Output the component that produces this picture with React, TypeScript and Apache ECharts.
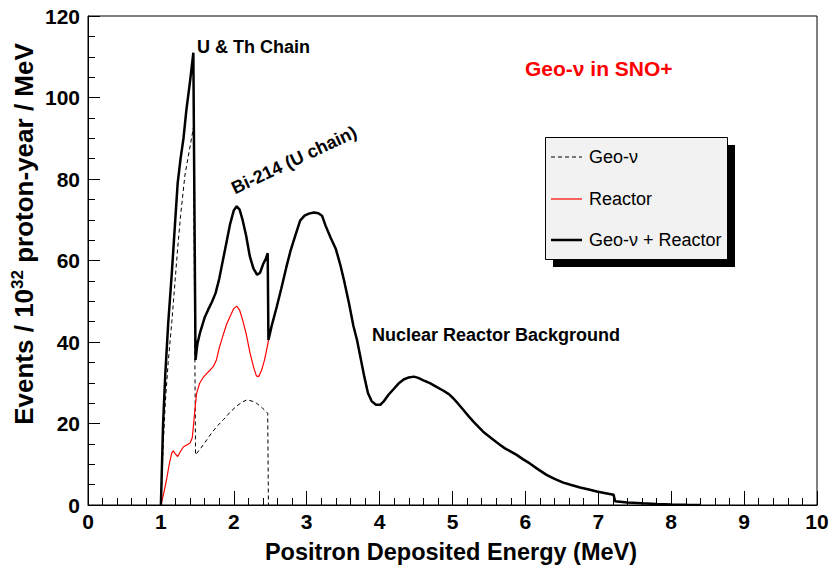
import React, { useEffect, useRef } from 'react';
import * as echarts from 'echarts';

// ---- Data ----
const xTickLabels = ['0', '1', '2', '3', '4', '5', '6', '7', '8', '9', '10'];
const yTickLabels = ['0', '20', '40', '60', '80', '100', '120'];

// Geo-neutrino spectrum (dashed)
const geoEnergy = [1.0, 1.03, 1.06, 1.1, 1.15, 1.19, 1.23, 1.27, 1.33, 1.39, 1.445, 1.475, 1.55, 1.63, 1.7, 1.78, 1.86, 1.95, 2.04, 2.12, 2.18, 2.25, 2.31, 2.38, 2.45, 2.465, 2.475];
const geoValues = [0, 14, 25, 35, 45, 54, 63, 71, 81, 87, 92.5, 12.3, 14, 16, 17.8, 19.5, 21, 22.8, 24.3, 25.3, 25.8, 25.5, 25, 24, 22.8, 22.5, 0];

// Reactor spectrum below 2.5 MeV (red)
const reactorEnergy = [1.0, 1.04, 1.08, 1.12, 1.15, 1.17, 1.2, 1.23, 1.27, 1.31, 1.36, 1.4, 1.43, 1.445, 1.47, 1.49, 1.53, 1.58, 1.63, 1.68, 1.72, 1.76, 1.8, 1.85, 1.9, 1.95, 2.0, 2.04, 2.08, 2.12, 2.17, 2.22, 2.27, 2.31, 2.34, 2.38, 2.42, 2.45, 2.47];
const reactorValues = [0, 3, 6.5, 10.5, 12.8, 13.3, 12.5, 11.9, 13.2, 14.3, 14.8, 15.2, 16.5, 19.2, 24, 27.4, 29.8, 31.3, 32.3, 33.2, 34, 35.5, 38.5, 41.5, 44.3, 46.3, 48.2, 48.8, 47.8, 45.5, 42, 37.5, 33.9, 31.7, 31.5, 33, 35.5, 38, 39.8];

// Geo + Reactor below 2.5 MeV (thick black)
const totalEnergy = [1.0, 1.03, 1.06, 1.1, 1.15, 1.19, 1.23, 1.27, 1.31, 1.35, 1.4, 1.445, 1.475, 1.5, 1.54, 1.6, 1.65, 1.7, 1.75, 1.8, 1.85, 1.9, 1.95, 2.0, 2.04, 2.08, 2.12, 2.17, 2.22, 2.27, 2.32, 2.36, 2.4, 2.44, 2.465];
const totalValues = [0, 20, 32, 44.5, 57, 68, 79, 85, 90, 97, 104, 111, 35.6, 39.5, 42.5, 46, 48, 49.8, 52, 55.5, 60, 64.5, 69, 72.3, 73.3, 72.5, 70, 66, 61, 58, 56.5, 57, 59, 60.5, 61.8];

// Above 2.5 MeV the geo-neutrino term is zero: reactor == geo + reactor
const tailEnergy = [2.475, 2.52, 2.59, 2.65, 2.72, 2.78, 2.85, 2.91, 2.97, 3.03, 3.1, 3.16, 3.21, 3.26, 3.33, 3.4, 3.46, 3.52, 3.58, 3.64, 3.69, 3.74, 3.79, 3.84, 3.89, 3.95, 4.01, 4.06, 4.12, 4.19, 4.26, 4.33, 4.4, 4.47, 4.53, 4.6, 4.69, 4.78, 4.87, 4.95, 5.01, 5.08, 5.15, 5.22, 5.29, 5.36, 5.42, 5.49, 5.56, 5.64, 5.72, 5.8, 5.88, 5.97, 6.06, 6.17, 6.29, 6.4, 6.52, 6.63, 6.75, 6.87, 6.98, 7.1, 7.21, 7.23, 7.4, 7.6, 7.8, 8.0, 8.2, 8.4];
const tailValues = [40.5, 44, 48.7, 53, 58.3, 62.5, 66.5, 69.8, 71, 71.5, 71.8, 71.6, 71, 68.5, 65.5, 62.8, 59, 54.5, 49.5, 44, 40.5, 36, 31.5, 27.5, 25.5, 24.6, 24.6, 25.5, 27, 28.4, 29.8, 30.8, 31.3, 31.5, 31.2, 30.6, 29.9, 29, 28.1, 27.2, 26.2, 24.8, 23.3, 21.8, 20.4, 19.1, 18, 17, 16, 14.9, 13.9, 13.1, 12.3, 11.2, 10.2, 8.8, 7.4, 6.4, 5.5, 4.9, 4.3, 3.8, 3.3, 2.9, 2.5, 0.9, 0.6, 0.4, 0.25, 0.12, 0.04, 0];

const legendLabels = ['Geo-\u03bd', 'Reactor', 'Geo-\u03bd + Reactor'];

const FONT = '"Liberation Sans", Arial, Helvetica, sans-serif';

const pairs = (xs: number[], ys: number[]) => xs.map((x, i) => [x, ys[i]]);

export default function App() {
  const ref = useRef<HTMLDivElement>(null);

  useEffect(() => {
    const chart = echarts.init(ref.current!, null, { renderer: 'svg' });

    const geoData = pairs(geoEnergy, geoValues);
    const reactorData = pairs(reactorEnergy, reactorValues).concat(pairs(tailEnergy, tailValues));
    const totalData = pairs(totalEnergy, totalValues).concat(pairs(tailEnergy, tailValues));

    const lx0 = 551;
    const lx1 = 582;
    const ltx = 589;
    const rows = [157, 199, 240];

    chart.setOption({
      animation: false,
      backgroundColor: '#ffffff',
      grid: {
        left: 88,
        right: 15,
        top: 16,
        bottom: 65,
        show: true,
        borderColor: '#000',
        borderWidth: 1,
        outerBoundsMode: 'none',
      },
      xAxis: {
        type: 'value',
        min: 0,
        max: 10,
        interval: 1,
        axisLine: { lineStyle: { color: '#000', width: 1 } },
        axisTick: { inside: true, length: 14, lineStyle: { color: '#000', width: 1 } },
        minorTick: { show: true, splitNumber: 5, length: 7, lineStyle: { color: '#000', width: 1 } },
        splitLine: { show: false },
        minorSplitLine: { show: false },
        axisLabel: {
          color: '#000',
          fontFamily: FONT,
          fontWeight: 'bold',
          fontSize: 21,
          margin: 6,
          formatter: (v: number) => xTickLabels[Math.round(v)] ?? '',
        },
      },
      yAxis: {
        type: 'value',
        min: 0,
        max: 120,
        interval: 20,
        axisLine: { show: true, lineStyle: { color: '#000', width: 1 } },
        axisTick: { show: true, inside: true, length: 12, lineStyle: { color: '#000', width: 1 } },
        minorTick: { show: true, splitNumber: 4, length: 7, lineStyle: { color: '#000', width: 1 } },
        splitLine: { show: false },
        minorSplitLine: { show: false },
        axisLabel: {
          color: '#000',
          fontFamily: FONT,
          fontWeight: 'bold',
          fontSize: 21,
          margin: 8,
          formatter: (v: number) => yTickLabels[Math.round(v / 20)] ?? '',
        },
      },
      series: [
        {
          name: legendLabels[0],
          type: 'line',
          data: geoData,
          symbol: 'none',
          lineStyle: { color: '#000', width: 1, type: [4, 3] },
          z: 2,
        },
        {
          name: legendLabels[1],
          type: 'line',
          data: reactorData,
          symbol: 'none',
          lineStyle: { color: '#ff0000', width: 1.2 },
          z: 3,
        },
        {
          name: legendLabels[2],
          type: 'line',
          data: totalData,
          symbol: 'none',
          lineStyle: { color: '#000', width: 2.5 },
          z: 4,
        },
      ],
      graphic: [
        // axis titles
        {
          type: 'text',
          x: 451,
          y: 552,
          style: {
            text: 'Positron Deposited Energy (MeV)',
            fontFamily: FONT,
            fontWeight: 'bold',
            fontSize: 23.5,
            fill: '#000',
            textAlign: 'center',
            textVerticalAlign: 'middle',
          },
        },
        {
          type: 'text',
          x: 24,
          y: 234,
          rotation: Math.PI / 2,
          style: {
            text: '{a|Events / 10}{s|32}{a| proton-year / MeV}',
            fill: '#000',
            textAlign: 'center',
            textVerticalAlign: 'middle',
            rich: {
              a: { fontFamily: FONT, fontWeight: 'bold', fontSize: 26, fill: '#000' },
              s: { fontFamily: FONT, fontWeight: 'bold', fontSize: 17, fill: '#000', padding: [0, 0, 14, 0] },
            },
          },
        },
        // annotations
        {
          type: 'text',
          x: 197,
          y: 47,
          style: { text: 'U & Th Chain', fontFamily: FONT, fontWeight: 'bold', fontSize: 18, fill: '#000', textVerticalAlign: 'middle' },
        },
        {
          type: 'text',
          x: 294,
          y: 160,
          rotation: 0.44,
          style: { text: 'Bi-214 (U chain)', fontFamily: FONT, fontWeight: 'bold', fontSize: 18, fill: '#000', textAlign: 'center', textVerticalAlign: 'middle' },
        },
        {
          type: 'text',
          x: 372,
          y: 335,
          style: { text: 'Nuclear Reactor Background', fontFamily: FONT, fontWeight: 'bold', fontSize: 18, fill: '#000', textVerticalAlign: 'middle' },
        },
        {
          type: 'text',
          x: 525,
          y: 68,
          style: { text: 'Geo-\u03bd in SNO+', fontFamily: FONT, fontWeight: 'bold', fontSize: 21, fill: '#ff0000', textVerticalAlign: 'middle' },
        },
        // legend
        { type: 'rect', shape: { x: 553, y: 145, width: 182, height: 122 }, style: { fill: '#000' } },
        { type: 'rect', shape: { x: 545.5, y: 137.5, width: 182, height: 122 }, style: { fill: '#f2f2f2', stroke: '#000', lineWidth: 1 } },
        { type: 'line', shape: { x1: lx0, y1: rows[0], x2: lx1, y2: rows[0] }, style: { stroke: '#000', lineWidth: 1, lineDash: [4, 3] } },
        { type: 'line', shape: { x1: lx0, y1: rows[1], x2: lx1, y2: rows[1] }, style: { stroke: '#ff0000', lineWidth: 1.2 } },
        { type: 'line', shape: { x1: lx0, y1: rows[2], x2: lx1, y2: rows[2] }, style: { stroke: '#000', lineWidth: 2.5 } },
        ...legendLabels.map((t, i) => ({
          type: 'text',
          x: ltx,
          y: rows[i],
          style: { text: t, fontFamily: FONT, fontSize: 18, fill: '#000', textVerticalAlign: 'middle' },
        })),
      ],
    });

    return () => chart.dispose();
  }, []);

  return (
    <div
      ref={ref}
      style={{ position: 'absolute', left: 0, top: 0, width: 832, height: 570, background: '#fff' }}
    />
  );
}
